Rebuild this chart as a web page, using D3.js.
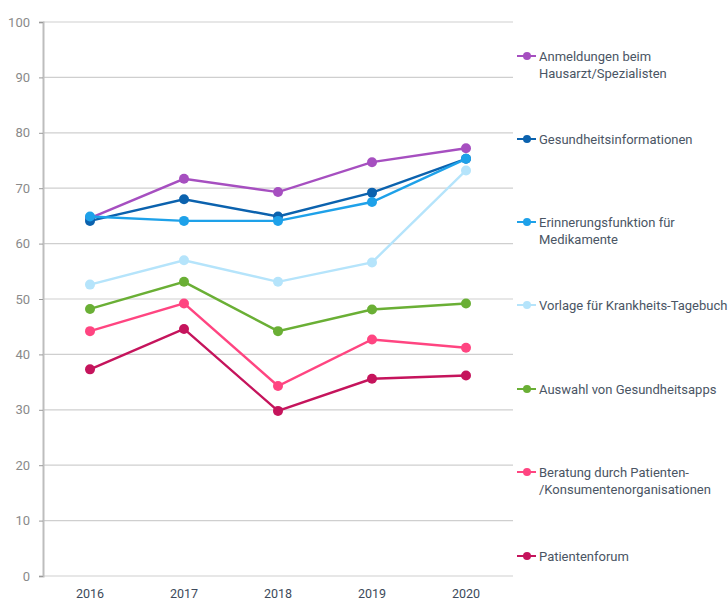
<!DOCTYPE html>
<html><head><meta charset="utf-8">
<script src="https://cdn.jsdelivr.net/npm/d3@7"></script>
<style>body{margin:0;background:#fff}svg{display:block}</style>
</head><body>
<svg id="c" width="728" height="601"></svg>
<script>
const years = ["2016","2017","2018","2019","2020"];
const yTicks = [0,10,20,30,40,50,60,70,80,90,100];
const seriesNames = [
  ["Anmeldungen beim","Hausarzt/Spezialisten"],
  ["Gesundheitsinformationen"],
  ["Erinnerungsfunktion für","Medikamente"],
  ["Vorlage für Krankheits-Tagebuch"],
  ["Auswahl von Gesundheitsapps"],
  ["Beratung durch Patienten-","/Konsumentenorganisationen"],
  ["Patientenforum"]
];
const seriesColors = ["#a64fc0","#0b62ae","#1ea1e9","#b5e4fb","#6aaf35","#ff4581","#c5145c"];
const anmeldungen = [64.6,71.7,69.3,74.7,77.2];
const gesundheitsinfo = [64.1,68.0,64.9,69.2,75.3];
const erinnerung = [64.9,64.1,64.1,67.5,75.3];
const vorlage = [52.6,57.0,53.1,56.6,73.2];
const apps = [48.2,53.1,44.2,48.1,49.2];
const beratung = [44.2,49.2,34.3,42.7,41.2];
const forum = [37.3,44.6,29.8,35.6,36.2];
const seriesValues = [anmeldungen,gesundheitsinfo,erinnerung,vorlage,apps,beratung,forum];

const svg = d3.select("#c");
const L = 43, R = 513, T = 22, B = 576;
const x = d3.scaleBand().domain(years).range([L,R]);
const y = d3.scaleLinear().domain([0,100]).range([B,T]);

// grid
svg.append("g").selectAll("line").data(yTicks).join("line")
  .attr("x1",L).attr("x2",R).attr("y1",d=>y(d)).attr("y2",d=>y(d))
  .attr("stroke","#cfcfcf").attr("stroke-width",1.2);

// y axis
const ya = svg.append("g").attr("transform",`translate(${L},0)`)
  .call(d3.axisLeft(y).tickValues(yTicks).tickSize(4).tickPadding(9));
ya.select(".domain").attr("stroke","#bdbdbd").attr("stroke-width",2);
ya.selectAll(".tick line").attr("stroke","#9a9a9a");
ya.selectAll("text").attr("font-family","Roboto, sans-serif").attr("font-size",13).attr("fill","#8a8a8a");

// x axis labels
const xa = svg.append("g").attr("transform",`translate(0,${B})`)
  .call(d3.axisBottom(x).tickSize(0).tickPadding(13));
xa.select(".domain").remove();
xa.selectAll("text").attr("font-family","Roboto, sans-serif").attr("font-size",12.5).attr("fill","#3d4a5b");

const line = d3.line().x((d,i)=>x(years[i])+x.bandwidth()/2).y(d=>y(d));
seriesValues.forEach((vals,k)=>{
  const g = svg.append("g");
  g.append("path").datum(vals).attr("d",line).attr("fill","none")
    .attr("stroke",seriesColors[k]).attr("stroke-width",2.4);
  g.selectAll("circle").data(vals).join("circle")
    .attr("cx",(d,i)=>x(years[i])+x.bandwidth()/2).attr("cy",d=>y(d)).attr("r",5)
    .attr("fill",seriesColors[k]);
});

// legend
const legY = [56,139,222,305,389,472,556];
seriesNames.forEach((lines,k)=>{
  const g = svg.append("g").attr("transform",`translate(517,${legY[k]})`);
  g.append("line").attr("x1",0).attr("x2",19).attr("stroke",seriesColors[k]).attr("stroke-width",2);
  g.append("circle").attr("cx",10).attr("r",4).attr("fill",seriesColors[k]);
  const t = g.append("text").attr("x",22).attr("font-family","Roboto, sans-serif")
    .attr("font-size",13).attr("fill","#4a5564");
  lines.forEach((s,j)=>t.append("tspan").attr("x",22).attr("y",j*17.5+4.5).text(s));
});
</script>
</body></html>
